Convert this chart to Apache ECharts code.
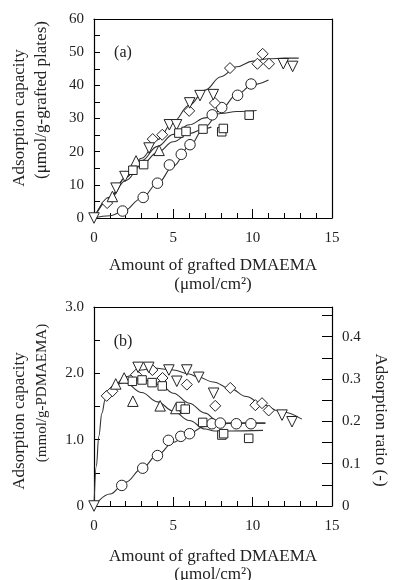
<!DOCTYPE html>
<html><head><meta charset="utf-8">
<script src="https://cdn.jsdelivr.net/npm/echarts@6/dist/echarts.min.js"></script>
<style>html,body{margin:0;padding:0;background:#fff}#c{width:393px;height:580px}</style>
</head><body><div id="c"></div>
<script>
// ---- panel (a): adsorption capacity (umol/g-grafted plates) vs grafted DMAEMA (umol/cm2)
const aCircle = [[1.8,2.1],[3.1,6.2],[4.0,10.5],[4.75,16.0],[5.5,19.2],[6.05,22.1],[7.45,31.1],[8.05,33.3],[9.05,37.0],[9.9,40.4]];
const aDiamond = [[0.83,4.5],[3.7,23.8],[4.3,25.1],[6.0,32.3],[7.62,34.7],[8.57,45.2],[10.3,46.5],[10.63,49.5],[11.03,46.5]];
const aTriDown = [[0,0],[1.39,9.0],[1.95,12.5],[3.47,21.1],[4.75,28.1],[5.2,28.1],[6.03,34.7],[6.68,36.9],[7.52,37.2],[11.93,46.5],[12.52,45.7]];
const aTriUp = [[1.16,6.5],[2.65,17.2],[4.1,20.4]];
const aSquare = [[2.45,14.4],[3.13,16.1],[5.35,25.6],[5.8,26.1],[6.87,26.8],[8.05,26.0],[8.15,27.0],[9.78,31.0]];
const aFitUpper = [[0,0],[1,6.2],[2,12.2],[3,18],[4,23.6],[5,29],[6,34],[7,38.6],[8,42.6],[9,45.6],[10,47.3],[11,48],[12,48.2],[12.9,48.2]];
const aFitCircle = [[0,0],[1,0.7],[1.8,1.9],[3,5.9],[4,10.4],[5,15.6],[6,21.6],[7,27.5],[8,32.8],[9,37.2],[10,40.2],[11,41.6]];
const aFitMid = [[0,0],[1,6.3],[2,12.3],[3,17.3],[4,21.6],[5,25.2],[6,28.1],[7,30.2],[8,31.5],[9,32.1],[10.25,32.4]];
const aFitSquare = [[0,0],[1,5.8],[2,11.3],[3,16],[4,19.8],[5,23],[6,25.5],[7,27],[7.4,27.4]];
// ---- panel (b): adsorption capacity (mmol/g-PDMAEMA) vs grafted DMAEMA
const bCircle = [[1.75,0.31],[3.07,0.57],[4.0,0.76],[4.69,0.99],[5.47,1.05],[6.02,1.09],[7.43,1.24],[7.96,1.25],[8.97,1.24],[9.89,1.24]];
const bDiamond = [[0.8,1.66],[1.16,1.73],[2.65,1.98],[3.68,2.05],[4.32,1.93],[5.85,1.83],[7.64,1.51],[8.59,1.78],[10.17,1.52],[10.59,1.55],[11.01,1.44]];
const bTriDown = [[0,0],[2.78,2.09],[3.45,2.09],[4.72,2.05],[5.22,1.88],[5.85,2.05],[6.6,1.94],[7.54,1.70],[11.85,1.37],[12.48,1.27]];
const bTriUp = [[1.37,1.84],[1.9,1.93],[2.45,1.58],[4.17,1.51],[5.16,1.47]];
const bSquare = [[2.42,1.88],[3.03,1.90],[3.66,1.86],[4.3,1.81],[5.45,1.50],[5.75,1.46],[6.85,1.26],[8.06,1.07],[8.17,1.09],[9.75,1.02]];
const bFitTriDown = [[0,0],[0.15,0.6],[0.3,1.05],[0.5,1.4],[0.7,1.6],[0.9,1.7],[1.2,1.8],[2,1.95],[3,2.05],[3.7,2.08],[5,2.05],[6,1.99],[6.6,1.94],[7.5,1.87],[8.6,1.77],[9.6,1.65],[10.6,1.53],[11.8,1.42],[13.1,1.31]];
const bFitSquare = [[1.5,1.84],[2.5,1.9],[3.5,1.89],[4.27,1.81],[5,1.70],[6,1.55],[7,1.40],[7.75,1.29],[8.3,1.25],[10.8,1.25]];
const bFitTriUp = [[1.2,1.80],[1.96,1.86],[3,1.71],[4,1.57],[5,1.43],[6,1.29],[7,1.16],[7.6,1.13],[8.5,1.13],[10.65,1.14]];
const bFitCircle = [[0,0],[1,0.18],[2,0.36],[3,0.56],[4,0.77],[5,0.96],[6,1.1],[7,1.2],[8,1.24],[9,1.25],[10.8,1.25]];
// tick labels
const xLabels = ['0','5','10','15'];

const FONT = '"Liberation Serif", "Times New Roman", serif';
const chart = echarts.init(document.getElementById('c'), null, {renderer:'canvas'});

function xAx(g){
  return {gridIndex:g, type:'value', min:0, max:15, interval:5, position:'bottom',
    axisLine:{show:true, onZero:false, lineStyle:{color:'#000', width:1.2}},
    axisTick:{show:true, inside:true, length:9, lineStyle:{color:'#000'}},
    minorTick:{show:true, splitNumber:5, length:5, lineStyle:{color:'#000'}},
    splitLine:{show:false}, minorSplitLine:{show:false},
    axisLabel:{fontFamily:FONT, fontSize:15, color:'#222', margin:13,
      formatter:v=>xLabels[Math.round(v/5)]}};
}
function frameX(g){
  return {gridIndex:g, type:'value', min:0, max:15, position:'top',
    axisLine:{show:true, onZero:false, lineStyle:{color:'#000', width:1.2}},
    axisTick:{show:false}, axisLabel:{show:false}, splitLine:{show:false}};
}
function yAx(g, max, interval, minorN, tickLen, fmt, pos){
  return {gridIndex:g, type:'value', min:0, max:max, interval:interval, position:pos||'left',
    axisLine:{show:true, onZero:false, lineStyle:{color:'#000', width:1.2}},
    axisTick:{show:true, inside:true, length:tickLen, lineStyle:{color:'#000'}},
    minorTick:{show:minorN>1, splitNumber:minorN, length:tickLen, lineStyle:{color:'#000'}},
    splitLine:{show:false}, minorSplitLine:{show:false},
    axisLabel:{fontFamily:FONT, fontSize:15, color:'#222', margin:10, formatter:fmt}};
}
function frameY(g){
  return {gridIndex:g, type:'value', min:0, max:60, position:'right',
    axisLine:{show:true, onZero:false, lineStyle:{color:'#000', width:1.2}},
    axisTick:{show:false}, axisLabel:{show:false}, splitLine:{show:false}};
}
function sc(x, y, data, symbol, size, rot){
  return {type:'scatter', xAxisIndex:x, yAxisIndex:y, data:data, symbol:symbol, symbolSize:size, symbolRotate:rot||0,
    itemStyle:{color:'#fff', borderColor:'#222', borderWidth:1, opacity:1}, z:5, silent:true};
}
function ln(x, y, data){
  return {type:'line', xAxisIndex:x, yAxisIndex:y, data:data, showSymbol:false, symbol:'none', smooth:0.4, smoothMonotone:'x',
    lineStyle:{color:'#333', width:1.1}, z:3, silent:true};
}
function txt(x, y, s, rot, size){
  return {type:'text', x:x, y:y, rotation:rot||0, z:10,
    style:{text:s, font:(size||17)+'px '+FONT, fill:'#222', align:'center', verticalAlign:'middle', textAlign:'center', textVerticalAlign:'middle'}};
}

chart.setOption({
  animation:false,
  backgroundColor:'#fff',
  grid:[
    {left:94, top:19, width:238, height:199},
    {left:94, top:307, width:238, height:199}
  ],
  xAxis:[xAx(0), xAx(1), frameX(0), frameX(1)],
  yAxis:[
    yAx(0, 60, 10, 2, 6, v=>String(v)),
    yAx(1, 3, 1, 2, 6, v=>v===0?'0':v.toFixed(1)),
    yAx(1, 0.47, 0.05, 0, 10, v=>{const r=Math.round(v*100); if(r%10!==0) return ''; return r===0?'0':(r/100).toFixed(1);}, 'right'),
    frameY(0)
  ],
  series:[
    ln(0,0,aFitUpper), ln(0,0,aFitCircle), ln(0,0,aFitMid), ln(0,0,aFitSquare),
    sc(0,0,aCircle,'circle',10.5), sc(0,0,aDiamond,'diamond',[11,11]), sc(0,0,aTriDown,'triangle',10.5,180),
    sc(0,0,aTriUp,'triangle',10.5), sc(0,0,aSquare,'rect',8.5),
    ln(1,1,bFitTriDown), ln(1,1,bFitSquare), ln(1,1,bFitTriUp), ln(1,1,bFitCircle),
    sc(1,1,bCircle,'circle',10.5), sc(1,1,bDiamond,'diamond',[11,11]), sc(1,1,bTriDown,'triangle',10.5,180),
    sc(1,1,bTriUp,'triangle',10.5), sc(1,1,bSquare,'rect',8.5)
  ],
  graphic:[
    txt(123,53,'(a)',0,16), txt(123,342,'(b)',0,16),
    txt(213,266,'Amount of grafted DMAEMA'), txt(213,285,'(μmol/cm²)'),
    txt(213,557,'Amount of grafted DMAEMA'), txt(213,575,'(μmol/cm²)'),
    txt(20,118,'Adsorption capacity',Math.PI/2), txt(42,100,'(μmol/g-grafted plates)',Math.PI/2),
    txt(20,421,'Adsorption capacity',Math.PI/2), txt(42,393,'(mmol/g-PDMAEMA)',Math.PI/2,15),
    txt(380,420,'Adsorption ratio (-)',-Math.PI/2)
  ]
});
</script></body></html>
